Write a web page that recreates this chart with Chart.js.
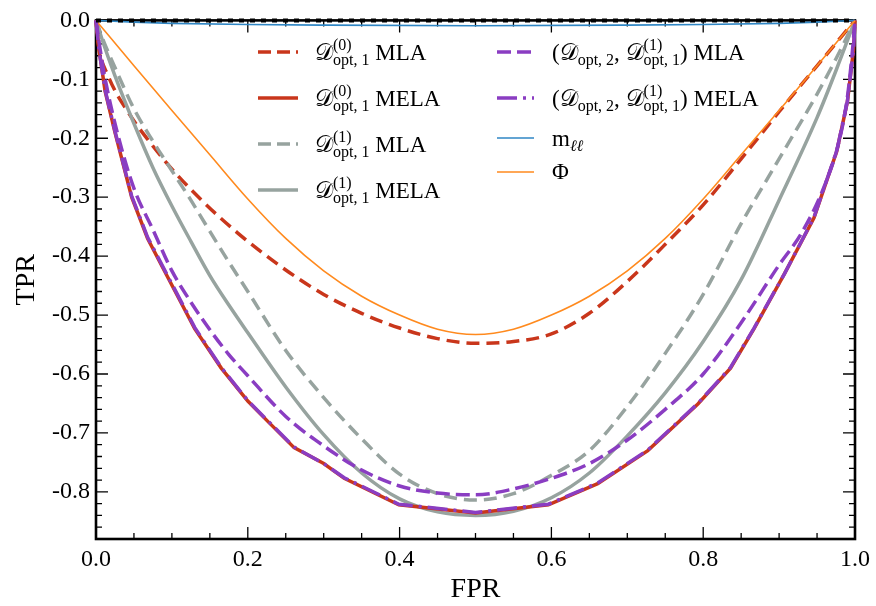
<!DOCTYPE html>
<html lang="en">
<head>
  <meta charset="UTF-8" />
  <title>ROC curves</title>
  <script src="https://cdn.jsdelivr.net/npm/chart.js"></script>
  <style>
    * { box-sizing: border-box; margin: 0; padding: 0; }
    body { background: #fff; width: 876px; height: 606px; overflow: hidden; }
    canvas { display: block; }
  </style>
</head>
<body>
  <canvas id="roc" width="876" height="606"></canvas>

  <script>
    // tick labels
    const xTicks = [0, 0.2, 0.4, 0.6, 0.8, 1.0];
    const yTicks = [0, -0.1, -0.2, -0.3, -0.4, -0.5, -0.6, -0.7, -0.8];

    // D(0)opt,1 MLA (red dashed)
    const fprD0Mla = [0, 0.003, 0.016, 0.042, 0.073, 0.104, 0.143, 0.186, 0.244, 0.3, 0.35, 0.4, 0.45, 0.5, 0.55, 0.6, 0.65, 0.7, 0.75, 0.8, 0.85, 0.9, 0.95, 1];
    const tprD0Mla = [0, -0.04, -0.094, -0.155, -0.21, -0.258, -0.31, -0.36, -0.418, -0.465, -0.497, -0.522, -0.54, -0.548, -0.545, -0.532, -0.497, -0.443, -0.38, -0.313, -0.235, -0.155, -0.077, 0];

    // D(0)opt,1 MELA (red solid)
    const fprD0Mela = [0, 0.004, 0.012, 0.025, 0.047, 0.068, 0.093, 0.13, 0.165, 0.2, 0.226, 0.261, 0.3, 0.327, 0.399, 0.5, 0.596, 0.661, 0.727, 0.793, 0.836, 0.867, 0.907, 0.946, 0.976, 0.99, 0.998, 1];
    const tprD0Mela = [0, -0.05, -0.12, -0.19, -0.3, -0.37, -0.432, -0.523, -0.59, -0.646, -0.68, -0.725, -0.752, -0.777, -0.822, -0.836, -0.822, -0.786, -0.73, -0.651, -0.59, -0.523, -0.43, -0.335, -0.222, -0.138, -0.05, 0];

    // D(1)opt,1 MLA (grey dashed)
    const fprD1Mla = [0, 0.01, 0.025, 0.05, 0.075, 0.1, 0.125, 0.15, 0.175, 0.2, 0.25, 0.3, 0.35, 0.4, 0.45, 0.5, 0.55, 0.6, 0.65, 0.7, 0.75, 0.8, 0.85, 0.9, 0.95, 0.975, 1];
    const tprD1Mla = [0, -0.035, -0.08, -0.15, -0.205, -0.255, -0.305, -0.358, -0.41, -0.46, -0.56, -0.64, -0.71, -0.77, -0.803, -0.814, -0.803, -0.772, -0.73, -0.655, -0.565, -0.465, -0.345, -0.235, -0.125, -0.065, 0];

    // D(1)opt,1 MELA (grey solid)
    const fprD1Mela = [0, 0.01, 0.025, 0.05, 0.075, 0.1, 0.125, 0.15, 0.175, 0.2, 0.25, 0.3, 0.35, 0.4, 0.45, 0.5, 0.55, 0.6, 0.65, 0.7, 0.75, 0.8, 0.85, 0.9, 0.95, 0.975, 1];
    const tprD1Mela = [0, -0.04, -0.094, -0.175, -0.25, -0.315, -0.375, -0.433, -0.483, -0.53, -0.622, -0.703, -0.768, -0.812, -0.834, -0.84, -0.833, -0.81, -0.768, -0.705, -0.632, -0.545, -0.44, -0.305, -0.165, -0.085, 0];

    // (Dopt,2, D(1)opt,1) MLA (purple dashed)
    const fprD2Mla = [0, 0.005, 0.012, 0.029, 0.05, 0.075, 0.1, 0.125, 0.15, 0.175, 0.2, 0.25, 0.3, 0.35, 0.4, 0.45, 0.5, 0.55, 0.6, 0.65, 0.7, 0.75, 0.8, 0.85, 0.9, 0.93, 0.96, 0.98, 0.99, 0.996, 1];
    const tprD2Mla = [0, -0.045, -0.099, -0.195, -0.285, -0.355, -0.425, -0.478, -0.525, -0.567, -0.603, -0.672, -0.722, -0.763, -0.79, -0.802, -0.805, -0.795, -0.777, -0.752, -0.712, -0.66, -0.6, -0.513, -0.415, -0.36, -0.28, -0.2, -0.13, -0.06, 0];

    // (Dopt,2, D(1)opt,1) MELA (purple dash-dot)
    const fprD2Mela = [0, 0.004, 0.012, 0.025, 0.047, 0.068, 0.093, 0.13, 0.165, 0.2, 0.226, 0.261, 0.3, 0.327, 0.399, 0.5, 0.596, 0.661, 0.727, 0.793, 0.836, 0.867, 0.907, 0.946, 0.976, 0.99, 0.998, 1];
    const tprD2Mela = [0, -0.05, -0.118, -0.188, -0.298, -0.368, -0.43, -0.521, -0.589, -0.645, -0.679, -0.724, -0.752, -0.776, -0.821, -0.835, -0.821, -0.785, -0.729, -0.65, -0.589, -0.522, -0.43, -0.334, -0.221, -0.137, -0.05, 0];

    // m_ll (blue)
    const fprMll = [0, 0.05, 0.1, 0.2, 0.3, 0.5, 0.7, 0.8, 0.9, 0.95, 1];
    const tprMll = [0, -0.003, -0.005, -0.007, -0.008, -0.009, -0.008, -0.007, -0.005, -0.003, 0];

    // Phi (orange)
    const fprPhi = [0, 0.05, 0.1, 0.15, 0.2, 0.25, 0.3, 0.35, 0.4, 0.45, 0.5, 0.55, 0.6, 0.65, 0.7, 0.75, 0.8, 0.85, 0.9, 0.95, 1];
    const tprPhi = [0, -0.077, -0.153, -0.228, -0.303, -0.37, -0.425, -0.468, -0.5, -0.524, -0.533, -0.524, -0.5, -0.468, -0.425, -0.37, -0.303, -0.228, -0.153, -0.077, 0];

    // reference line at TPR = 0
    const fprRef = [0, 1];
    const tprRef = [0, 0];

    const RED = '#c9361b', GREY = '#97a39f', PURPLE = '#8a3dc2', BLUE = '#2f86c4', ORANGE = '#ff8a1e';
    const SERIF = '"Liberation Serif", "Times New Roman", serif';

    function pts(xs, ys) { return xs.map((v, i) => ({ x: v, y: ys[i] })); }

    function line(data, color, width, dash, order, smooth) {
      return {
        data: data, borderColor: color, borderWidth: width, borderDash: dash,
        pointRadius: 0, showLine: true, fill: false, order: order, clip: false,
        borderCapStyle: 'butt',
        cubicInterpolationMode: smooth ? 'monotone' : 'default', tension: 0
      };
    }

    // frame and inward ticks on all four sides
    const framePlugin = {
      id: 'frame',
      beforeDatasetsDraw(chart) {
        const { ctx, chartArea: a, scales: { x, y } } = chart;
        ctx.save();
        ctx.strokeStyle = '#000';
        ctx.lineWidth = 1.3;
        ctx.beginPath();
        for (let i = 0; i <= 20; i++) {
          const px = x.getPixelForValue(i * 0.05);
          const len = (i % 4 === 0) ? 12 : 6;
          ctx.moveTo(px, a.bottom); ctx.lineTo(px, a.bottom - len);
          ctx.moveTo(px, a.top); ctx.lineTo(px, a.top + len);
        }
        for (let i = 0; i <= 44; i++) {
          const py = y.getPixelForValue(-i * 0.02);
          const len = (i % 5 === 0) ? 12 : 6;
          ctx.moveTo(a.left, py); ctx.lineTo(a.left + len, py);
          ctx.moveTo(a.right, py); ctx.lineTo(a.right - len, py);
        }
        ctx.stroke();
        ctx.lineWidth = 2.6;
        ctx.strokeRect(a.left, a.top, a.right - a.left, a.bottom - a.top);
        ctx.restore();
      },
      afterDatasetsDraw(chart) {
        drawLegend(chart.ctx);
      }
    };

    // rich text: segments [kind, ...]
    function rich(ctx, x, y, segs) {
      ctx.fillStyle = '#000';
      ctx.textBaseline = 'alphabetic';
      ctx.textAlign = 'left';
      segs.forEach(s => {
        if (s[0] === 'n') {
          ctx.font = '23px ' + SERIF;
          ctx.fillText(s[1], x, y);
          x += ctx.measureText(s[1]).width;
        } else if (s[0] === 'D') {
          ctx.font = '23px ' + SERIF;
          ctx.fillText('\u{1D49F}', x, y);
          x += ctx.measureText('\u{1D49F}').width;
        } else if (s[0] === 'sub') {
          ctx.font = s[2] ? 'italic 16px ' + SERIF : '16px ' + SERIF;
          ctx.fillText(s[1], x, y + 5);
          x += ctx.measureText(s[1]).width;
        } else if (s[0] === 'ss') {
          ctx.font = '16px ' + SERIF;
          ctx.fillText(s[1], x, y - 10);
          const w1 = ctx.measureText(s[1]).width;
          ctx.fillText(s[2], x, y + 5);
          const w2 = ctx.measureText(s[2]).width;
          x += Math.max(w1, w2);
        }
      });
    }

    function sample(ctx, x0, x1, y, color, width, dash) {
      ctx.save();
      ctx.strokeStyle = color;
      ctx.lineWidth = width;
      ctx.setLineDash(dash);
      ctx.beginPath();
      ctx.moveTo(x0, y); ctx.lineTo(x1, y);
      ctx.stroke();
      ctx.restore();
    }

    function drawLegend(ctx) {
      const L0 = 258, L1 = 298, LT = 315;
      const R0 = 497, R1 = 534, RT = 552;
      sample(ctx, L0, L1, 52, RED, 3.5, [13, 6]);
      rich(ctx, LT, 60, [['D'], ['ss', '(0)', 'opt, 1'], ['n', ' MLA']]);
      sample(ctx, L0, L1, 98, RED, 3.5, []);
      rich(ctx, LT, 106, [['D'], ['ss', '(0)', 'opt, 1'], ['n', ' MELA']]);
      sample(ctx, L0, L1, 144, GREY, 3.5, [13, 6]);
      rich(ctx, LT, 152, [['D'], ['ss', '(1)', 'opt, 1'], ['n', ' MLA']]);
      sample(ctx, L0, L1, 190, GREY, 3.5, []);
      rich(ctx, LT, 198, [['D'], ['ss', '(1)', 'opt, 1'], ['n', ' MELA']]);

      sample(ctx, R0, R1, 52, PURPLE, 3.5, [14, 6]);
      rich(ctx, RT, 60, [['n', '('], ['D'], ['sub', 'opt, 2'], ['n', ', '], ['D'], ['ss', '(1)', 'opt, 1'], ['n', ') MLA']]);
      sample(ctx, R0, R1, 98, PURPLE, 3.5, [20, 6, 3, 6]);
      rich(ctx, RT, 106, [['n', '('], ['D'], ['sub', 'opt, 2'], ['n', ', '], ['D'], ['ss', '(1)', 'opt, 1'], ['n', ') MELA']]);
      sample(ctx, R0, R1, 138, BLUE, 1.6, []);
      rich(ctx, RT, 146, [['n', 'm'], ['sub', '\u2113\u2113', true]]);
      sample(ctx, R0, R1, 172, ORANGE, 1.6, []);
      rich(ctx, RT, 179, [['n', '\u03A6']]);
    }

    new Chart(document.getElementById('roc'), {
      type: 'scatter',
      data: {
        datasets: [
          line(pts(fprRef, tprRef), '#000', 4, [5, 6], 0, false),
          line(pts(fprD2Mela, tprD2Mela), PURPLE, 3.5, [20, 6, 3, 6], 1, false),
          line(pts(fprPhi, tprPhi), ORANGE, 1.6, [], 2, true),
          line(pts(fprMll, tprMll), BLUE, 1.6, [], 3, true),
          line(pts(fprD2Mla, tprD2Mla), PURPLE, 3.5, [14, 6], 4, true),
          line(pts(fprD0Mela, tprD0Mela), RED, 3.5, [], 5, false),
          line(pts(fprD1Mela, tprD1Mela), GREY, 3.5, [], 6, true),
          line(pts(fprD1Mla, tprD1Mla), GREY, 3.5, [13, 7], 7, true),
          line(pts(fprD0Mla, tprD0Mla), RED, 3.5, [13, 7], 8, true)
        ]
      },
      options: {
        responsive: false,
        animation: false,
        devicePixelRatio: 1,
        layout: { padding: { top: 14, right: 18, left: 0, bottom: 0 } },
        plugins: { legend: { display: false }, tooltip: { enabled: false } },
        scales: {
          x: {
            type: 'linear', min: 0, max: 1,
            grid: { display: false, drawTicks: false },
            border: { display: false },
            afterBuildTicks: s => { s.ticks = xTicks.map(v => ({ value: v })); },
            afterFit: s => { s.height = 67; },
            ticks: {
              color: '#000', padding: 6, maxRotation: 0,
              font: { family: SERIF, size: 24 },
              callback: v => v.toFixed(1)
            },
            title: {
              display: true, text: 'FPR', color: '#000',
              font: { family: SERIF, size: 28 },
              padding: { top: 0, bottom: 0 }
            }
          },
          y: {
            type: 'linear', min: -0.88, max: 0,
            grid: { display: false, drawTicks: false },
            border: { display: false },
            afterBuildTicks: s => { s.ticks = yTicks.map(v => ({ value: v })); },
            afterFit: s => { s.width = 96; },
            ticks: {
              color: '#000', padding: 6,
              font: { family: SERIF, size: 24 },
              callback: v => v.toFixed(1)
            },
            title: {
              display: true, text: 'TPR', color: '#000',
              font: { family: SERIF, size: 28 },
              padding: { top: 10, bottom: 0 }
            }
          }
        }
      },
      plugins: [framePlugin]
    });
  </script>
</body>
</html>
